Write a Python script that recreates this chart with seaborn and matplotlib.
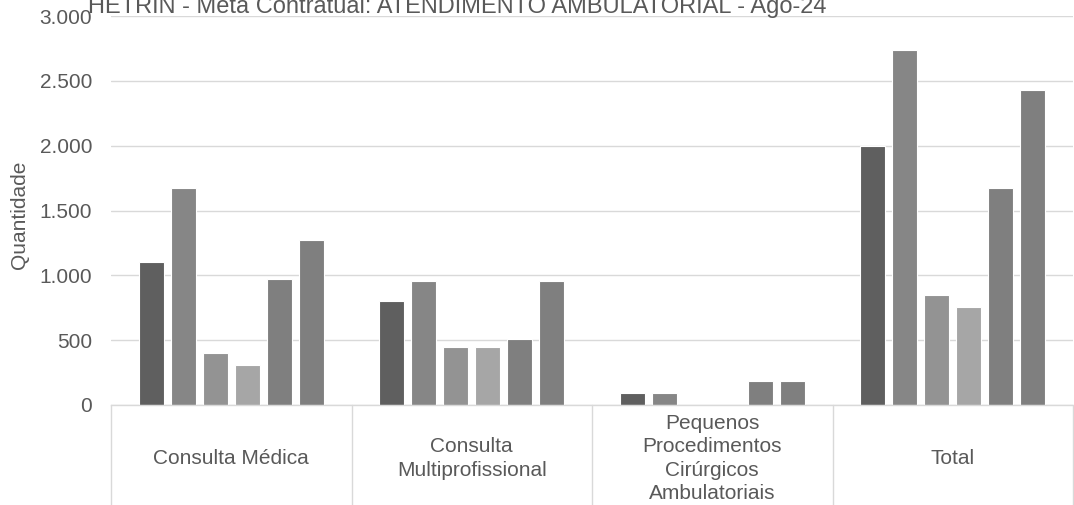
import pandas as pd
import numpy as np
import seaborn as sns
import matplotlib.pyplot as plt
from matplotlib.ticker import FuncFormatter
import matplotlib.transforms as mtransforms

# categories and the six series (no legend in the source chart)
categorias = ["Consulta Médica", "Consulta\nMultiprofissional",
              "Pequenos\nProcedimentos\nCirúrgicos\nAmbulatoriais", "Total"]
series = ["Série 1", "Série 2", "Série 3", "Série 4", "Série 5", "Série 6"]
serie_1 = [1100, 800, 95, 2000]
serie_2 = [1670, 960, 95, 2735]
serie_3 = [400, 450, 0, 850]
serie_4 = [305, 450, 0, 755]
serie_5 = [970, 510, 185, 1672]
serie_6 = [1275, 960, 185, 2430]
cores = ['#5f5f5f', '#868686', '#939393', '#a6a6a6', '#7f7f7f', '#7f7f7f']

valores = [serie_1, serie_2, serie_3, serie_4, serie_5, serie_6]
rows = []
for s, vals in zip(series, valores):
    for c, v in zip(categorias, vals):
        rows.append({'Categoria': c, 'Serie': s, 'Quantidade': v})
df = pd.DataFrame(rows)

sns.set_style('white')
plt.rcParams['font.family'] = ['Liberation Sans', 'DejaVu Sans']
cinza = '#595959'

fig = plt.figure(figsize=(10.74, 5.05), dpi=100)
ax = fig.add_axes([111/1074, 100/505, 962/1074, 389/505])

sns.barplot(data=df, x='Categoria', y='Quantidade', hue='Serie', order=categorias,
            hue_order=series, palette=cores, width=0.8, gap=0.22,
            edgecolor='white', linewidth=0.8, legend=False, ax=ax)

ax.set_xlim(-0.5, 3.5)
ax.set_ylim(0, 3000)
ax.set_yticks(np.arange(0, 3001, 500))
ax.yaxis.set_major_formatter(FuncFormatter(lambda v, p: f'{int(v):,}'.replace(',', '.')))
ax.set_axisbelow(True)
ax.yaxis.grid(True, color='#d9d9d9', linewidth=1)
ax.xaxis.grid(False)
for side in ['top', 'right', 'left']:
    ax.spines[side].set_visible(False)
ax.spines['bottom'].set_color('#d9d9d9')
ax.spines['bottom'].set_linewidth(1)

ax.tick_params(axis='y', length=0, pad=13.5, labelsize=15, labelcolor=cinza)
ax.set_xticks([])
ax.set_xlabel('')
ax.set_ylabel('Quantidade', fontsize=15, color=cinza)
ax.yaxis.set_label_coords(-0.085, 0.49)

# category labels in boxes under the axis
trans = mtransforms.blended_transform_factory(ax.transData, ax.transAxes)
for i, c in enumerate(categorias):
    ax.text(i, -0.137, c, transform=trans, ha='center', va='center',
            fontsize=15, color=cinza, linespacing=1.3)
for xb in np.arange(-0.5, 4, 1):
    ax.plot([xb, xb], [0, -0.26], transform=trans, color='#d9d9d9',
            linewidth=1, clip_on=False)

fig.text(88/1074, 1 - 13/505, 'HETRIN - Meta Contratual: ATENDIMENTO AMBULATORIAL - Ago-24',
         fontsize=17, color=cinza, ha='left', va='baseline')

fig.savefig('out.png', dpi=100)
